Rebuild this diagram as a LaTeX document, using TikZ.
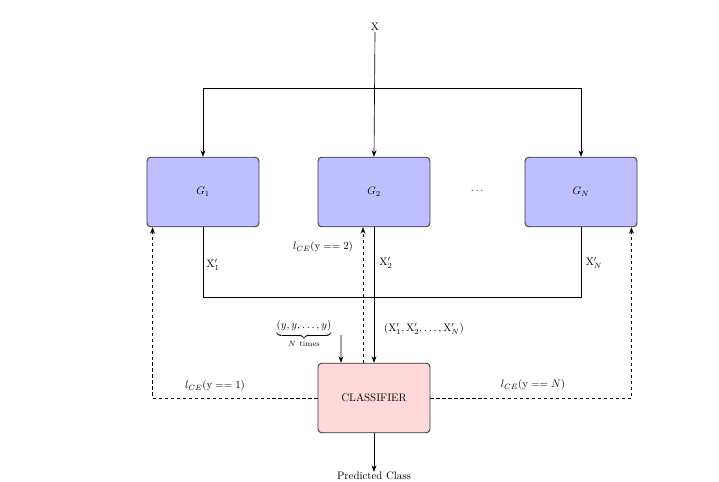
\documentclass[tikz,border=0pt]{standalone}
\usepackage{amsmath}
\usetikzlibrary{arrows.meta}
\begin{document}
\begin{tikzpicture}[x=0.92pt,y=-0.92pt,
  gbox/.style={draw=black!80, fill=blue!25, rounded corners=3.5pt, line width=0.8pt, minimum width=103pt, minimum height=64pt},
  cbox/.style={draw=black!80, fill=red!15, rounded corners=3.5pt, line width=0.8pt, minimum width=103pt, minimum height=64pt},
  arr/.style={-{Stealth[length=6pt,width=4.5pt]}, line width=0.6pt},
  ln/.style={line width=0.6pt},
  darr/.style={-{Stealth[length=6pt,width=4.5pt]}, line width=0.6pt, dash pattern=on 3pt off 2.5pt},
  lbl/.style={inner sep=1pt}]
\path[use as bounding box] (0,0) rectangle (719,481);
\node[lbl] (X) at (375,27) {X};
\node[gbox] (G1) at (203,192) {$G_1$};
\node[gbox] (G2) at (374,192) {$G_2$};
\node[gbox] (GN) at (581,192) {$G_N$};
\node[lbl] (dots) at (478,191) {$\cdots$};
\node[cbox] (cls) at (374,398) {CLASSIFIER};
\node[lbl] (pred) at (374,476) {Predicted Class};
\coordinate (split) at (374,88);
\coordinate (jn) at (581,297);
\coordinate (bs) at (341,335);
% X distribution
\draw[arr] (X.south) -- (G2.north);
\draw[arr] (split) -| (G1.north);
\draw[arr] (split) -| (GN.north);
% generated outputs
\draw[ln] (G1.south) |- (jn) -- (GN.south);
\draw[arr] (G2.south) -- (cls.north);
% labels
\node[lbl] (x1) at (213,265) {$\mathrm{X}'_1$};
\node[lbl] (x2) at (386,263) {$\mathrm{X}'_2$};
\node[lbl] (xn) at (594,263) {$\mathrm{X}'_N$};
\node[lbl] (xall) at (424,329) {$\left(\mathrm{X}'_1,\mathrm{X}'_2,\ldots,\mathrm{X}'_N\right)$};
\node[lbl] (ys) at (304,334) {$\underbrace{(y,y,\ldots,y)}_{N\ \text{times}}$};
\draw[arr] (bs) -- ([xshift=-30.4pt]cls.north);
% losses
\draw[darr] ([xshift=-10.1pt]cls.north) -- ([xshift=-10.1pt]G2.south);
\draw[darr] (cls.west) -| ([xshift=5.5pt]G1.south west);
\draw[darr] (cls.east) -| ([xshift=-5.5pt]GN.south east);
\node[lbl] (l2) at (323,247) {$l_{CE}(\mathrm{y}==2)$};
\node[lbl] (l1) at (215,386) {$l_{CE}(\mathrm{y}==1)$};
\node[lbl] (lN) at (533,385) {$l_{CE}(\mathrm{y}==N)$};
\draw[arr] (cls.south) -- ([yshift=-1pt]pred.north);
\end{tikzpicture}
\end{document}
